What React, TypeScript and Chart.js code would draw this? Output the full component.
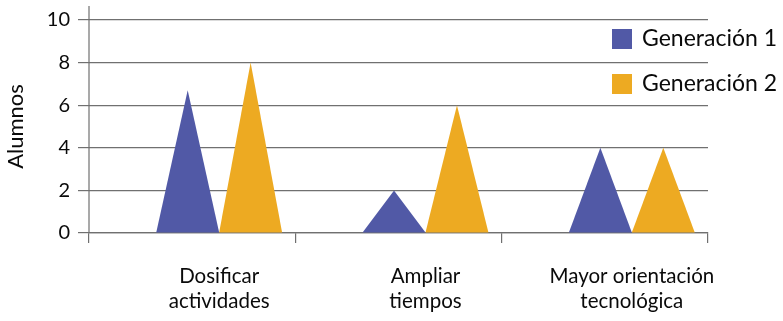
import React, { useEffect, useRef } from "react";
import { Chart, registerables } from "chart.js";

Chart.register(...registerables);

const categories: string[][] = [
  ["Dosificar", "actividades"],
  ["Ampliar", "tiempos"],
  ["Mayor orientación", "tecnológica"],
];
const seriesNames = ["Generación 1", "Generación 2"];
const generacion1 = [6.7, 2, 4];
const generacion2 = [8, 6, 4];
const seriesColors = ["#5159a6", "#edaa22"];
const yTicks = [0, 2, 4, 6, 8, 10];

const FONT = "Lato, 'Open Sans', sans-serif";
const GRID = "#707070";
const TEXT = "#0a0a0a";
const GROUP_SHIFT = 27;

const trianglePlugin = {
  id: "triangles",
  beforeDatasetDraw(chart: any, args: any) {
    const ctx = chart.ctx;
    const meta = args.meta;
    const color = chart.data.datasets[args.index].backgroundColor;
    ctx.save();
    ctx.fillStyle = color;
    meta.data.forEach((el: any) => {
      const p = el.getProps(["x", "y", "base", "width"], true);
      const cx = p.x + GROUP_SHIFT;
      const half = p.width / 2;
      ctx.beginPath();
      ctx.moveTo(cx - half, p.base);
      ctx.lineTo(cx, p.y);
      ctx.lineTo(cx + half, p.base);
      ctx.closePath();
      ctx.fill();
    });
    ctx.restore();
    return false;
  },
  afterDraw(chart: any) {
    const ctx = chart.ctx;
    const area = chart.chartArea;
    ctx.save();
    // extended y axis line
    ctx.strokeStyle = GRID;
    ctx.lineWidth = 1.2;
    ctx.beginPath();
    ctx.moveTo(area.left, area.top - 14);
    ctx.lineTo(area.left, area.bottom);
    ctx.stroke();
    // legend
    ctx.font = `23px ${FONT}`;
    ctx.textBaseline = "middle";
    ctx.textAlign = "left";
    chart.data.datasets.forEach((ds: any, i: number) => {
      const x = area.right - 96;
      const y = area.top + 9 + i * 45;
      ctx.fillStyle = ds.backgroundColor;
      ctx.fillRect(x, y, 20, 20);
      ctx.fillStyle = TEXT;
      ctx.fillText(ds.label, x + 30, y + 10);
    });
    ctx.restore();
  },
};

export default function App() {
  const ref = useRef<HTMLCanvasElement | null>(null);
  useEffect(() => {
    if (!ref.current) return;
    const chart = new Chart(ref.current, {
      type: "bar",
      data: {
        labels: categories,
        datasets: [
          { label: seriesNames[0], data: generacion1, backgroundColor: seriesColors[0] },
          { label: seriesNames[1], data: generacion2, backgroundColor: seriesColors[1] },
        ],
      },
      options: {
        animation: false,
        responsive: false,
        maintainAspectRatio: false,
        layout: { padding: { top: 20, right: 75, left: 0, bottom: 0 } },
        datasets: { bar: { categoryPercentage: 0.61, barPercentage: 1 } },
        plugins: { legend: { display: false }, tooltip: { enabled: false } },
        scales: {
          x: {
            offset: true,
            grid: {
              offset: true,
              drawOnChartArea: false,
              drawTicks: true,
              tickLength: 10,
              color: GRID,
              lineWidth: 1.2,
            },
            border: { display: true, color: GRID, width: 1.2 },
            ticks: {
              color: TEXT,
              font: { family: FONT, size: 20.5, lineHeight: 1.22 },
              padding: 21,
              labelOffset: GROUP_SHIFT,
              maxRotation: 0,
              autoSkip: false,
            },
            afterFit(scale: any) {
              scale.height = 321 - 233;
            },
          },
          y: {
            min: 0,
            max: 10,
            afterBuildTicks(scale: any) {
              scale.ticks = yTicks.map((v) => ({ value: v }));
            },
            grid: { color: GRID, lineWidth: 1.2, tickLength: 11 },
            border: { display: false },
            ticks: {
              color: TEXT,
              font: { family: FONT, size: 20 },
              padding: 8,
            },
            title: {
              display: true,
              text: "Alumnos",
              color: TEXT,
              font: { family: FONT, size: 22, lineHeight: 1.1 },
              padding: { top: 4, bottom: 0 },
            },
            afterFit(scale: any) {
              scale.width = 89;
            },
          },
        },
      },
      plugins: [trianglePlugin],
    });
    return () => chart.destroy();
  }, []);
  return (
    <div style={{ position: "fixed", left: 0, top: 0, width: 783, height: 321, background: "#fff" }}>
      <canvas ref={ref} width={783} height={321} style={{ width: 783, height: 321 }} />
    </div>
  );
}
